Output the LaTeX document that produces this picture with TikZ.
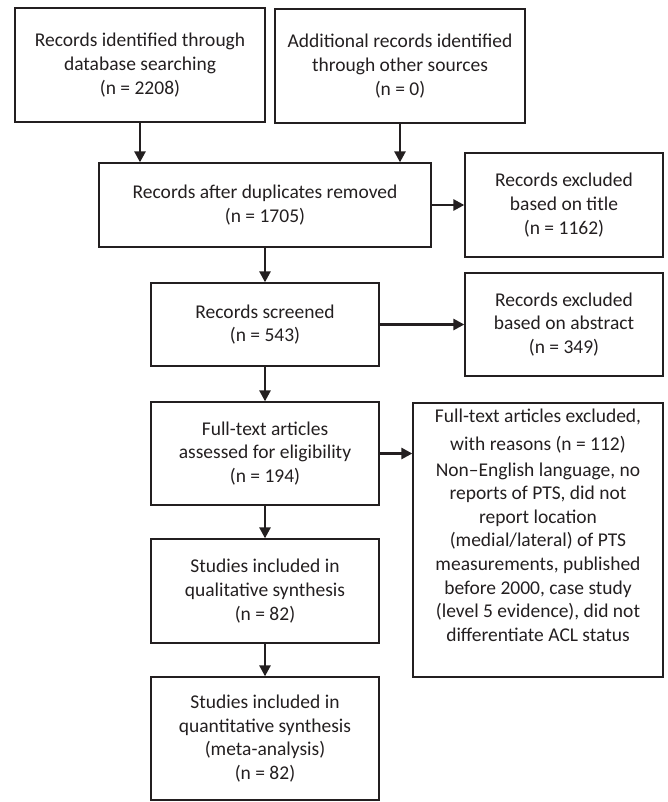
\documentclass[tikz,border=0pt]{standalone}
\usepackage{fontspec}
\setmainfont{Carlito}
\usetikzlibrary{arrows.meta}
\definecolor{ink}{HTML}{231F20}
\begin{document}
\begin{tikzpicture}[x=1pt,y=-1pt,
  box/.style={draw=ink, line width=1.3pt, text=ink, align=center, inner sep=0pt,
    font=\fontsize{19.5}{23.6}\selectfont},
  arr/.style={draw=ink, line width=2.6pt, -{Triangle[length=11pt,width=11pt]}}]
\useasboundingbox (0,0) rectangle (668,802);
\node[box, minimum width=250pt, minimum height=114pt] (b1) at (140,65)
  {Records identified through\\ database searching\\ (n = 2208)};
\node[box, minimum width=250pt, minimum height=114pt] (b2) at (400,66)
  {Additional records identified\\ through other sources\\ (n = 0)};
\node[box, minimum width=332pt, minimum height=84pt] (b3) at (265,205)
  {Records after duplicates removed\\ (n = 1705)};
\node[box, minimum width=198pt, minimum height=104pt] (t1) at (564,205)
  {Records excluded\\ based on title\\ (n = 1162)};
\node[box, minimum width=228pt, minimum height=83pt] (b4) at (265,324.5)
  {Records screened\\ (n = 543)};
\node[box, minimum width=198pt, minimum height=103pt] (t2) at (564,324.5)
  {Records excluded\\ based on abstract\\ (n = 349)};
\node[box, minimum width=228pt, minimum height=103pt] (b5) at (265,453.5)
  {Full-text articles\\ assessed for eligibility\\ (n = 194)};
\node[box, minimum width=250pt, minimum height=274pt] (t3) at (538,540)
  {Full-text articles excluded,\\[3.7pt] with reasons (n = 112)\\[2.4pt]
   Non–English language, no\\ reports of PTS, did not\\ report location\\
   (medial/lateral) of PTS\\ measurements, published\\ before 2000, case study\\
   (level 5 evidence), did not\\ differentiate ACL status\\[6pt]};
\node[box, minimum width=228pt, minimum height=104pt] (b6) at (265,591)
  {Studies included in\\ qualitative synthesis\\ (n = 82)};
\node[box, minimum width=228pt, minimum height=123pt] (b7) at (265,738.5)
  {Studies included in\\ quantitative synthesis\\ (meta-analysis)\\ (n = 82)};
\draw[arr] (b1.south) -- (b1.south |- b3.north);
\draw[arr] (b2.south) -- (b2.south |- b3.north);
\draw[arr] (b3.east) -- (t1.west);
\draw[arr] (b3.south) -- (b4.north);
\draw[arr] (b4.east) -- (t2.west);
\draw[arr] (b4.south) -- (b5.north);
\draw[arr] (b5.east) -- (b5.east -| t3.west);
\draw[arr] (b5.south) -- (b6.north);
\draw[arr] (b6.south) -- (b7.north);
\end{tikzpicture}
\end{document}
